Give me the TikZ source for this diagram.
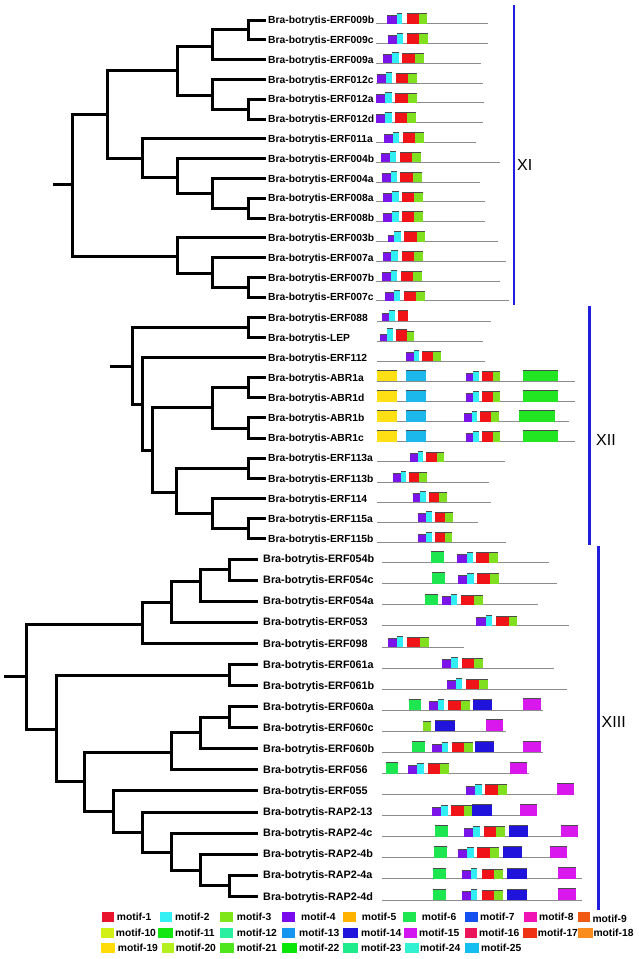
\documentclass[tikz,border=0pt]{standalone}
\usepackage{fontspec}
\setmainfont{Liberation Sans}
% box colours
\definecolor{mP}{HTML}{7A14E8}
\definecolor{mC}{HTML}{30EEF4}
\definecolor{mR}{HTML}{F01418}
\definecolor{mG}{HTML}{80E020}
\definecolor{mGs}{HTML}{1EE650}
\definecolor{mB}{HTML}{2014DC}
\definecolor{mM}{HTML}{D818EC}
\definecolor{mY}{HTML}{FFE014}
\definecolor{mLB}{HTML}{1CB8EC}
\definecolor{mBG}{HTML}{22E622}
\definecolor{lineGray}{HTML}{8C8C8C}
\definecolor{cladeBlue}{HTML}{1E1EDC}
% legend colours
\definecolor{lc1}{HTML}{E8142B}
\definecolor{lc2}{HTML}{33F0F5}
\definecolor{lc3}{HTML}{7FE61A}
\definecolor{lc4}{HTML}{7A0AEE}
\definecolor{lc5}{HTML}{FFB300}
\definecolor{lc6}{HTML}{1EE650}
\definecolor{lc7}{HTML}{1450F0}
\definecolor{lc8}{HTML}{F014B4}
\definecolor{lc9}{HTML}{F05A14}
\definecolor{lc10}{HTML}{D2F014}
\definecolor{lc11}{HTML}{14E614}
\definecolor{lc12}{HTML}{28F0A0}
\definecolor{lc13}{HTML}{1496F0}
\definecolor{lc14}{HTML}{1E14DC}
\definecolor{lc15}{HTML}{D214F0}
\definecolor{lc16}{HTML}{EB145A}
\definecolor{lc17}{HTML}{F03214}
\definecolor{lc18}{HTML}{FA8C1E}
\definecolor{lc19}{HTML}{FFDC0A}
\definecolor{lc20}{HTML}{B4F01E}
\definecolor{lc21}{HTML}{50E61E}
\definecolor{lc22}{HTML}{0AE60A}
\definecolor{lc23}{HTML}{1EEB8C}
\definecolor{lc24}{HTML}{32F0D2}
\definecolor{lc25}{HTML}{14BEF0}
\tikzset{
 tree/.style={line width=3pt, line join=miter, line cap=butt, draw=black},
 gline/.style={line width=1pt, draw=lineGray},
 topedge/.style={line width=0.8pt, draw=black!70},
 lbl/.style={anchor=base west, inner sep=0pt, font=\bfseries\fontsize{10.3}{12}\selectfont},
 lblc/.style={anchor=base west, inner sep=0pt, font=\bfseries\fontsize{10.8}{12}\selectfont},
 clade/.style={line width=2.5pt, draw=cladeBlue},
 cladetext/.style={anchor=west, inner sep=0pt, font=\fontsize{16}{18}\selectfont},
 lgl/.style={anchor=base west, inner sep=0pt, font=\bfseries\fontsize{10.3}{12}\selectfont},
}
% motif box: [height]{colour}{x1}{x2}{baseline}
\newcommand\mbx[5][10.5]{\fill[#2] (#3,#5) rectangle (#4,#5-#1); \draw[topedge] (#3,#5-#1) -- (#4,#5-#1);}
% standard AP2 block: {baseline}{p}{c1}{c2}{r}{g1}{g2}
\newcommand\stdrow[7]{\mbx[8.5]{mP}{#2}{#3}{#1}\mbx[10.5]{mC}{#3}{#4}{#1}\mbx[10]{mR}{#5}{#6}{#1}\mbx[10]{mG}{#6}{#7}{#1}}
% gene label and line: {name}{labelx}{baseline}{suffix}{linestart}{lineend}
\newcommand\gene[6]{\draw[gline] (#5,#3) -- (#6,#3); \node[lbl] (#1) at (#2,#3) {Bra-botrytis-#4};}
\newcommand\genec[6]{\draw[gline] (#5,#3) -- (#6,#3); \node[lblc] (#1) at (#2,#3) {Bra-botrytis-#4};}
% legend: {num}{x1}{x2}{tx}{y}
\newcommand\leg[5]{\fill[lc#1] (#2,#5-5) rectangle (#3,#5+5); \node[lgl] (lg#1) at (#4,#5+3.7) {motif-#1};}
\begin{document}
\begin{tikzpicture}[x=1pt,y=-1pt]
\useasboundingbox (0,0) rectangle (638,959);
\fill[white] (0,0) rectangle (638,959);

%================ Clade XI tree
\coordinate (s1) at (53,184);
\coordinate (r1) at (72,184);
\coordinate (B) at (107,114);
\coordinate (K) at (177,256);
\coordinate (C) at (177,70);
\coordinate (G) at (142,158);
\coordinate (D) at (212,46);
\coordinate (E) at (212,95);
\coordinate (D1) at (248,29.9);
\coordinate (F) at (248,109.1);
\coordinate (H) at (177,177);
\coordinate (I) at (212,193);
\coordinate (J) at (248,208.1);
\coordinate (L) at (212,273);
\coordinate (M) at (248,287.3);
\coordinate (t009b) at (266,20);
\coordinate (t009c) at (266,39.8);
\coordinate (t009a) at (266,59.6);
\coordinate (t012c) at (266,79.4);
\coordinate (t012a) at (266,99.2);
\coordinate (t012d) at (266,119);
\coordinate (t011a) at (266,138.8);
\coordinate (t004b) at (266,158.6);
\coordinate (t004a) at (266,178.4);
\coordinate (t008a) at (266,198.2);
\coordinate (t008b) at (266,218);
\coordinate (t003b) at (266,237.8);
\coordinate (t007a) at (266,257.6);
\coordinate (t007b) at (266,277.4);
\coordinate (t007c) at (266,297.2);
\draw[tree] (s1) -- (r1);
\draw[tree] (r1) |- (B); \draw[tree] (r1) |- (K);
\draw[tree] (B) |- (C); \draw[tree] (B) |- (G);
\draw[tree] (C) |- (D); \draw[tree] (C) |- (E);
\draw[tree] (D) |- (D1); \draw[tree] (D) |- (t009a);
\draw[tree] (D1) |- (t009b); \draw[tree] (D1) |- (t009c);
\draw[tree] (E) |- (t012c); \draw[tree] (E) |- (F);
\draw[tree] (F) |- (t012a); \draw[tree] (F) |- (t012d);
\draw[tree] (G) |- (t011a); \draw[tree] (G) |- (H);
\draw[tree] (H) |- (t004b); \draw[tree] (H) |- (I);
\draw[tree] (I) |- (t004a); \draw[tree] (I) |- (J);
\draw[tree] (J) |- (t008a); \draw[tree] (J) |- (t008b);
\draw[tree] (K) |- (t003b); \draw[tree] (K) |- (L);
\draw[tree] (L) |- (t007a); \draw[tree] (L) |- (M);
\draw[tree] (M) |- (t007b); \draw[tree] (M) |- (t007c);

%================ Clade XII tree
\coordinate (s2) at (110,366);
\coordinate (r2) at (132,366);
\coordinate (A2) at (248,327.4);
\coordinate (N) at (142,404);
\coordinate (O) at (152,450);
\coordinate (P) at (212,407.8);
\coordinate (Q) at (176,492);
\coordinate (P1) at (248,387.8);
\coordinate (P2) at (248,428);
\coordinate (Q1) at (248,468.3);
\coordinate (R) at (212,513);
\coordinate (R1) at (248,528.7);
\coordinate (t088) at (266,317.3);
\coordinate (tLEP) at (266,337.4);
\coordinate (t112) at (266,357.6);
\coordinate (tA1a) at (266,377.7);
\coordinate (tA1d) at (266,397.8);
\coordinate (tA1b) at (266,417.9);
\coordinate (tA1c) at (266,438.1);
\coordinate (t113a) at (266,458.2);
\coordinate (t113b) at (266,478.3);
\coordinate (t114) at (266,498.5);
\coordinate (t115a) at (266,518.6);
\coordinate (t115b) at (266,538.7);
\draw[tree] (s2) -- (r2);
\draw[tree] (r2) |- (A2); \draw[tree] (r2) |- (N);
\draw[tree] (A2) |- (t088); \draw[tree] (A2) |- (tLEP);
\draw[tree] (N) |- (t112); \draw[tree] (N) |- (O);
\draw[tree] (O) |- (P); \draw[tree] (O) |- (Q);
\draw[tree] (P) |- (P1); \draw[tree] (P) |- (P2);
\draw[tree] (P1) |- (tA1a); \draw[tree] (P1) |- (tA1d);
\draw[tree] (P2) |- (tA1b); \draw[tree] (P2) |- (tA1c);
\draw[tree] (Q) |- (Q1); \draw[tree] (Q) |- (R);
\draw[tree] (Q1) |- (t113a); \draw[tree] (Q1) |- (t113b);
\draw[tree] (R) |- (t114); \draw[tree] (R) |- (R1);
\draw[tree] (R1) |- (t115a); \draw[tree] (R1) |- (t115b);

%================ Clade XIII tree
\coordinate (s3) at (4,676);
\coordinate (r3) at (26,676);
\coordinate (S) at (142,624);
\coordinate (V) at (56,729);
\coordinate (T) at (171,602.7);
\coordinate (U) at (200,581.7);
\coordinate (U1) at (229,569.5);
\coordinate (V1) at (229,675);
\coordinate (W) at (84,781.7);
\coordinate (X) at (171,752.3);
\coordinate (Y) at (200,732.7);
\coordinate (Z) at (229,717.1);
\coordinate (AA) at (113,811.7);
\coordinate (AB) at (142,832.3);
\coordinate (AC) at (171,852.3);
\coordinate (AD) at (200,870);
\coordinate (AE) at (229,885.8);
\coordinate (t054b) at (258,559);
\coordinate (t054c) at (258,580.1);
\coordinate (t054a) at (258,601.2);
\coordinate (t053) at (258,622.2);
\coordinate (t098) at (258,643.3);
\coordinate (t061a) at (258,664.4);
\coordinate (t061b) at (258,685.5);
\coordinate (t060a) at (258,706.6);
\coordinate (t060c) at (258,727.6);
\coordinate (t060b) at (258,748.7);
\coordinate (t056) at (258,769.8);
\coordinate (t055) at (258,790.9);
\coordinate (tR13) at (258,812);
\coordinate (tR4c) at (258,833);
\coordinate (tR4b) at (258,854.1);
\coordinate (tR4a) at (258,875.2);
\coordinate (tR4d) at (258,896.3);
\draw[tree] (s3) -- (r3);
\draw[tree] (r3) |- (S); \draw[tree] (r3) |- (V);
\draw[tree] (S) |- (T); \draw[tree] (S) |- (t098);
\draw[tree] (T) |- (U); \draw[tree] (T) |- (t053);
\draw[tree] (U) |- (U1); \draw[tree] (U) |- (t054a);
\draw[tree] (U1) |- (t054b); \draw[tree] (U1) |- (t054c);
\draw[tree] (V) |- (V1); \draw[tree] (V) |- (W);
\draw[tree] (V1) |- (t061a); \draw[tree] (V1) |- (t061b);
\draw[tree] (W) |- (X); \draw[tree] (W) |- (AA);
\draw[tree] (X) |- (Y); \draw[tree] (X) |- (t056);
\draw[tree] (Y) |- (Z); \draw[tree] (Y) |- (t060b);
\draw[tree] (Z) |- (t060a); \draw[tree] (Z) |- (t060c);
\draw[tree] (AA) |- (t055); \draw[tree] (AA) |- (AB);
\draw[tree] (AB) |- (tR13); \draw[tree] (AB) |- (AC);
\draw[tree] (AC) |- (tR4c); \draw[tree] (AC) |- (AD);
\draw[tree] (AD) |- (tR4b); \draw[tree] (AD) |- (AE);
\draw[tree] (AE) |- (tR4a); \draw[tree] (AE) |- (tR4d);

%================ XI genes
\gene{l009b}{268}{23.7}{ERF009b}{376}{488}
\stdrow{23.7}{387.3}{396.7}{402.3}{406.7}{419}{427.3}
\gene{l009c}{268}{43.5}{ERF009c}{376}{488}
\stdrow{43.5}{387.7}{397}{403.3}{406.7}{419}{427.7}
\gene{l009a}{268}{63.3}{ERF009a}{376}{481}
\stdrow{63.3}{383.3}{392.3}{399}{402.3}{414.7}{423.7}
\gene{l012c}{268}{83.1}{ERF012c}{376}{483}
\stdrow{83.1}{376.7}{385.7}{392.3}{396}{408}{416.7}
\gene{l012a}{268}{102.9}{ERF012a}{376}{484}
\stdrow{102.9}{376.3}{385.3}{391.7}{395.3}{407.7}{416.7}
\gene{l012d}{268}{122.7}{ERF012d}{376}{483}
\stdrow{122.7}{376}{385}{391.7}{395}{407.3}{416.3}
\gene{l011a}{268}{142.5}{ERF011a}{376}{476}
\stdrow{142.5}{384}{393}{399}{402.7}{414.7}{423.7}
\gene{l004b}{268}{162.3}{ERF004b}{376}{500}
\stdrow{162.3}{381}{390}{396.3}{400}{412}{421.3}
\gene{l004a}{268}{182.1}{ERF004a}{376}{480}
\stdrow{182.1}{381.7}{390.7}{397}{400.3}{412.7}{421.7}
\gene{l008a}{268}{201.9}{ERF008a}{376}{485}
\stdrow{201.9}{383.3}{392.3}{399}{402}{414.3}{423}
\gene{l008b}{268}{221.7}{ERF008b}{376}{485}
\stdrow{221.7}{383.3}{392.3}{399}{402}{414.3}{423}
\gene{l003b}{268}{241.5}{ERF003b}{376}{498}
\mbx[6]{mP}{387.7}{394.3}{241.5}\mbx[10.5]{mC}{394.3}{400.7}{241.5}\mbx[10]{mR}{404.3}{416.7}{241.5}\mbx[10]{mG}{416.7}{425.3}{241.5}
\gene{l007a}{268}{261.3}{ERF007a}{376}{506}
\stdrow{261.3}{382.7}{391.3}{398}{401.7}{414}{422.7}
\gene{l007b}{268}{281.1}{ERF007b}{376}{500}
\stdrow{281.1}{382}{390.7}{397.3}{401}{413.3}{422}
\gene{l007c}{268}{300.9}{ERF007c}{376}{509}
\stdrow{300.9}{385}{394}{400.3}{404}{416}{425}

%================ XII genes
\gene{l088}{268}{321}{ERF088}{376.7}{490.7}
\mbx[7.7]{mP}{381.7}{389.3}{321}\mbx[11]{mC}{389.3}{395}{321}\mbx[11]{mR}{398.3}{408.3}{321}
\gene{lLEP}{268}{341.1}{LEP}{376.7}{482.7}
\mbx[7]{mP}{380}{387.3}{341.1}\mbx[12.5]{mC}{387.3}{392.7}{341.1}\mbx[12]{mR}{396}{406.7}{341.1}\mbx[10]{mG}{406.7}{414.3}{341.1}
\gene{l112}{268}{361.3}{ERF112}{376.7}{485}
\stdrow{361.3}{406}{414}{419}{422.3}{433.3}{440.7}
\gene{lA1a}{268}{381.4}{ABR1a}{376.7}{575}
\mbx[11]{mY}{377.3}{396.7}{381.4}\mbx[11]{mLB}{405.7}{425.7}{381.4}
\stdrow{381.4}{466}{473.3}{479}{482}{492.7}{500}
\mbx[11]{mBG}{522.7}{557.7}{381.4}
\gene{lA1d}{268}{401.5}{ABR1d}{376.7}{575}
\mbx[11]{mY}{377.3}{396.7}{401.5}\mbx[11]{mLB}{406}{426}{401.5}
\stdrow{401.5}{466}{473.3}{479}{482.3}{493}{500.3}
\mbx[11]{mBG}{523}{558.3}{401.5}
\gene{lA1b}{268}{421.6}{ABR1b}{376.7}{569}
\mbx[11]{mY}{377.3}{396.7}{421.6}\mbx[11]{mLB}{406}{426}{421.6}
\stdrow{421.6}{464.3}{471.7}{476.7}{480.3}{490.7}{498.7}
\mbx[11]{mBG}{519.3}{555}{421.6}
\gene{lA1c}{268}{441.8}{ABR1c}{376.7}{575}
\mbx[11]{mY}{377.3}{396.7}{441.8}\mbx[11]{mLB}{406}{426}{441.8}
\stdrow{441.8}{466}{473.3}{479}{482.3}{493}{500.3}
\mbx[11]{mBG}{523}{558.3}{441.8}
\gene{l113a}{268}{461.9}{ERF113a}{376.7}{505}
\stdrow{461.9}{410}{417.7}{422.7}{426}{436.7}{444}
\gene{l113b}{268}{482}{ERF113b}{376.7}{489}
\stdrow{482}{392.7}{400.7}{405.7}{409}{419.3}{427}
\gene{l114}{268}{502.2}{ERF114}{376.7}{490.7}
\stdrow{502.2}{412.7}{420.3}{425.7}{429}{439.3}{447}
\gene{l115a}{268}{522.3}{ERF115a}{376.7}{477.7}
\stdrow{522.3}{418.3}{426}{431.7}{434.7}{445.3}{452.7}
\gene{l115b}{268}{542.4}{ERF115b}{376.7}{505.7}
\stdrow{542.4}{418.3}{426}{431.7}{434.7}{444.7}{452}

%================ XIII genes
\genec{l054b}{263}{562.7}{ERF054b}{381.7}{548.7}
\mbx[11]{mGs}{431}{444}{562.7}
\stdrow{562.7}{457}{466.7}{472.7}{476.3}{489.3}{498}
\genec{l054c}{263}{583.8}{ERF054c}{381.7}{557.3}
\mbx[11]{mGs}{432}{445}{583.8}
\stdrow{583.8}{458}{467.3}{473.7}{477.3}{490.3}{499}
\genec{l054a}{263}{604.9}{ERF054a}{381.7}{538.3}
\mbx[11]{mGs}{424.7}{437.7}{604.9}
\stdrow{604.9}{441.7}{450.7}{457}{460.7}{473.7}{482.7}
\genec{l053}{263}{625.9}{ERF053}{381.7}{569.3}
\stdrow{625.9}{476.3}{485.7}{492}{495.7}{508.7}{517.3}
\genec{l098}{263}{647}{ERF098}{381.7}{464}
\stdrow{647}{387.7}{396.7}{403.3}{407.3}{420}{429}
\genec{l061a}{263}{668.1}{ERF061a}{381.7}{554}
\stdrow{668.1}{442.3}{451.3}{457.7}{461.7}{474}{483}
\genec{l061b}{263}{689.2}{ERF061b}{381.7}{567.3}
\stdrow{689.2}{446.7}{455.7}{462.3}{466}{478.7}{487.7}
\genec{l060a}{263}{710.3}{ERF060a}{381.7}{542.7}
\mbx[11]{mGs}{408.7}{421.3}{710.3}
\stdrow{710.3}{429}{438}{444.3}{448.3}{461}{469.7}
\mbx[11]{mB}{473.3}{492.3}{710.3}\mbx[11.5]{mM}{523}{540.7}{710.3}
\genec{l060c}{263}{731.3}{ERF060c}{381.7}{506}
\mbx[10]{mG}{423.3}{431.3}{731.3}\mbx[11]{mB}{435.3}{454.7}{731.3}\mbx[11.5]{mM}{486}{503.3}{731.3}
\genec{l060b}{263}{752.4}{ERF060b}{381.7}{542.7}
\mbx[11]{mGs}{412}{425}{752.4}
\stdrow{752.4}{432.3}{441.7}{448.3}{451.7}{464.3}{473}
\mbx[11]{mB}{474.7}{493.7}{752.4}\mbx[11.5]{mM}{523}{540.7}{752.4}
\genec{l056}{263}{773.5}{ERF056}{381.7}{529.3}
\mbx[11]{mGs}{385.7}{398}{773.5}
\stdrow{773.5}{408.3}{417}{424}{427.7}{440}{449.3}
\mbx[11.5]{mM}{509.7}{527.3}{773.5}
\genec{l055}{263}{794.6}{ERF055}{381.7}{574}
\stdrow{794.6}{466}{474.7}{481.7}{485.3}{498}{507}
\mbx[11.5]{mM}{557}{574.3}{794.6}
\genec{lR13}{263}{815.7}{RAP2-13}{381.7}{536.7}
\stdrow{815.7}{432}{441}{447.7}{451}{463.7}{472.3}
\mbx[11]{mB}{472.3}{491.7}{815.7}\mbx[11.5]{mM}{519.7}{537}{815.7}
\genec{lR4c}{263}{836.7}{RAP2-4c}{381.7}{578.3}
\mbx[11]{mGs}{435.3}{448.3}{836.7}
\stdrow{836.7}{464.3}{473.3}{480}{483.7}{496.3}{505}
\mbx[11]{mB}{509.3}{528.3}{836.7}\mbx[11.5]{mM}{561}{578.3}{836.7}
\genec{lR4b}{263}{857.8}{RAP2-4b}{381.7}{566.7}
\mbx[11]{mGs}{434.3}{447.3}{857.8}
\stdrow{857.8}{458}{467}{473.7}{477.3}{490}{499}
\mbx[11]{mB}{503}{522.3}{857.8}\mbx[11.5]{mM}{549.7}{567}{857.8}
\genec{lR4a}{263}{878.9}{RAP2-4a}{381.7}{581.7}
\mbx[11]{mGs}{432.7}{445.7}{878.9}
\stdrow{878.9}{462}{471.3}{477.3}{481.7}{493.7}{502.7}
\mbx[11]{mB}{507.3}{526.7}{878.9}\mbx[11.5]{mM}{558.3}{575.7}{878.9}
\genec{lR4d}{263}{900}{RAP2-4d}{381.7}{581.7}
\mbx[11]{mGs}{432.7}{445.7}{900}
\stdrow{900}{462}{471.3}{477.3}{481.7}{493.7}{502.7}
\mbx[11]{mB}{507.3}{526.7}{900}\mbx[11.5]{mM}{558.3}{575.7}{900}

%================ clade bars and names
\draw[clade] (514,5) -- (514,305);
\node[cladetext] (cXI) at (517,165) {XI};
\draw[clade] (589.3,306) -- (589.3,545);
\node[cladetext] (cXII) at (596,440) {XII};
\draw[clade] (598.3,546) -- (598.3,910);
\node[cladetext] (cXIII) at (601.5,722) {XIII};

%================ legend
\leg{1}{101.7}{114.3}{116.7}{917}
\leg{2}{160}{172.3}{175}{917}
\leg{3}{220}{232.7}{236.7}{917}
\leg{4}{282.3}{295}{301}{917}
\leg{5}{343.3}{356}{361.7}{917}
\leg{6}{403.3}{416}{421.7}{917}
\leg{7}{465}{477.5}{480}{917}
\leg{8}{524}{537}{539}{917}
\fill[lc9] (578.3,912) rectangle (590,922); \node[lgl] (lg9) at (592.3,922.3) {motif-9};
\leg{10}{101}{114.3}{115.7}{932.5}
\leg{11}{158.3}{173.3}{175}{932.5}
\leg{12}{220}{232.7}{236.7}{932.5}
\leg{13}{282.3}{295}{299}{932.5}
\leg{14}{343.3}{358.3}{361}{932.5}
\leg{15}{404.3}{417.3}{419}{932.5}
\leg{16}{465}{476.7}{479}{932.5}
\leg{17}{522.7}{536.7}{537.7}{932.5}
\leg{18}{578.3}{592.7}{593.3}{932.5}
\leg{19}{101}{115}{117.7}{948}
\leg{20}{161.7}{174.3}{175.7}{948}
\leg{21}{220}{234.3}{236.7}{948}
\leg{22}{282.3}{296.7}{299}{948}
\leg{23}{343.3}{358}{361}{948}
\leg{24}{405}{419.3}{420}{948}
\leg{25}{465}{479.3}{481}{948}
\end{tikzpicture}
\end{document}
